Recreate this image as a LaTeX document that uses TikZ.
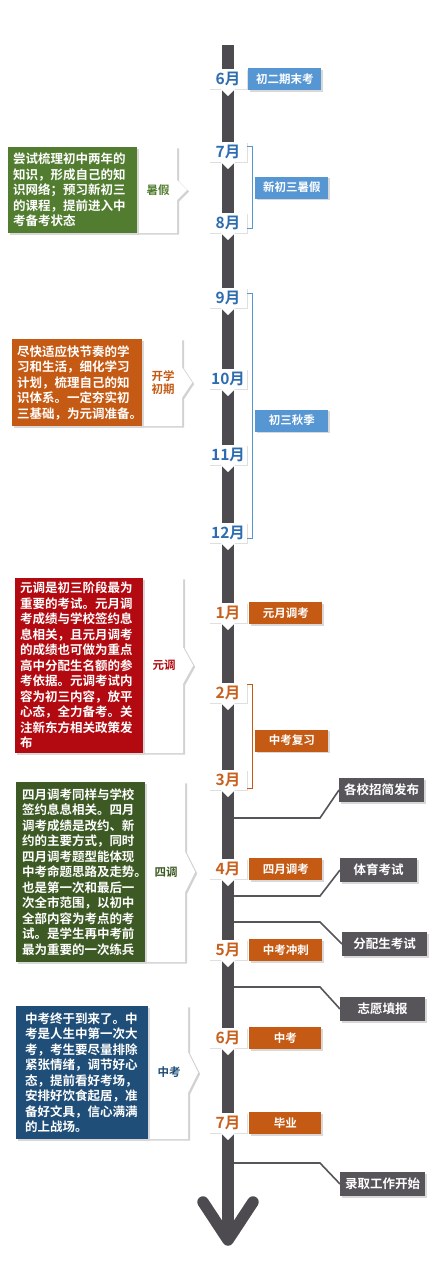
\documentclass[tikz,border=0pt]{standalone}
\usepackage{fontspec}
\setmainfont{Noto Sans CJK SC}[BoldFont=* Bold]
\usepackage{xcolor}
\usetikzlibrary{positioning, calc, shadows, backgrounds}
\definecolor{barGray}{HTML}{4E4B50}
\definecolor{boxGray}{HTML}{57545A}
\definecolor{monBlue}{HTML}{2D6DAF}
\definecolor{evBlue}{HTML}{5596D3}
\definecolor{monOrange}{HTML}{C8601E}
\definecolor{evOrange}{HTML}{C55A14}
\definecolor{leafGreen}{HTML}{527C2F}
\definecolor{darkGreen}{HTML}{3D5A25}
\definecolor{examRed}{HTML}{B20A10}
\definecolor{deepBlue}{HTML}{1F4E79}
\tikzstyle{Bar} = [draw=barGray, line width=11.5pt]
\tikzstyle{Month} = [fill=white, minimum width=38pt, minimum height=20pt, inner sep=0pt,
	font=\fontsize{15.5}{15.5}\selectfont\bfseries,
	drop shadow={opacity=0.25, shadow xshift=1pt, shadow yshift=-1pt}]
\tikzstyle{Event} = [text=white, minimum width=73pt, minimum height=22pt, inner sep=0pt,
	font=\fontsize{11.5}{12}\selectfont\bfseries,
	drop shadow={opacity=0.3, shadow xshift=1.5pt, shadow yshift=-1.5pt}]
\tikzstyle{Milestone} = [Event, fill=boxGray, minimum width=85pt, minimum height=24pt,
	font=\fontsize{12.5}{13}\selectfont\bfseries]
\tikzstyle{Note} = [text=white, align=left, inner xsep=5pt, inner ysep=0pt,
	font=\fontsize{12.5}{15.5}\selectfont\bfseries,
	drop shadow={opacity=0.3, shadow xshift=1.5pt, shadow yshift=-1.5pt}]
\tikzstyle{Tab} = [fill=white, drop shadow={opacity=0.35, shadow xshift=2pt, shadow yshift=-1.5pt}]
\tikzstyle{Tag} = [align=center, inner sep=0pt, font=\fontsize{11.5}{13}\selectfont\bfseries]
\tikzstyle{Brace} = [line width=1.3pt]
\tikzstyle{Link} = [draw=boxGray, line width=1.6pt]

\begin{document}
\begin{tikzpicture}[x=1pt, y=-1pt]
	\begin{scope}[on background layer]
		\fill[white] (0,0) rectangle (445,1280);
	\end{scope}
	\useasboundingbox (0,0) rectangle (445,1280);
	
	% time line
	\coordinate (top) at (228,45);
	\coordinate (tip) at (228,1240);
	\draw[Bar] (top) -- (tip);
	\draw[Bar, line cap=round, line join=round] (203,1202) -- (tip) -- (253,1202);
	
	% milestones on the right
	\node[Milestone, anchor=west] (g1) at (339,790) {各校招简发布};
	\node[Milestone, anchor=west, minimum width=77pt] (g2) at (340,870) {体育考试};
	\node[Milestone, anchor=west] (g3) at (342,944) {分配生考试};
	\node[Milestone, anchor=west] (g4) at (340,1009) {志愿填报};
	\node[Milestone, anchor=west] (g5) at (340,1184) {录取工作开始};
	\foreach \g/\y in {g1/818, g2/896, g3/922, g4/987, g5/1163} {
		\coordinate (p\g) at (234,\y);
		\draw[Link] (p\g) -- ++(86,0) -- (\g.west);
	}
	
	% months
	\foreach \n/\t/\y/\c in {jun1/6月/79/monBlue, jul1/7月/152/monBlue, aug/8月/223/monBlue,
		sep/9月/298/monBlue, oct/10月/379/monBlue, nov/11月/455/monBlue, dec/12月/533/monBlue,
		jan/1月/613/monOrange, feb/2月/693/monOrange, mar/3月/780/monOrange,
		apr/4月/869/monOrange, may/5月/950/monOrange, jun2/6月/1038/monOrange, jul2/7月/1123/monOrange} {
		\node[Month, text=\c] (\n) at (228,\y) {\t};
		\fill[white] ([xshift=-7pt]\n.south) -- ([yshift=-7pt]\n.south) -- ([xshift=7pt]\n.south) -- cycle;
	}
	
	% events
	\node[Event, fill=evBlue, right=1pt of jun1] (e1) {初二期末考};
	\draw[Brace, evBlue] ([yshift=-5pt]jul1.north east) -- ++(5,0) |- ([yshift=5pt]aug.south east);
	\node[Event, fill=evBlue, anchor=west] (e2) at ($(jul1.east)!0.5!(aug.east)+(8,0)$) {新初三暑假};
	\draw[Brace, evBlue] ([yshift=-6pt]sep.north east) -- ++(5,0) |- ([yshift=5pt]dec.south east);
	\node[Event, fill=evBlue, anchor=west] (e3) at ($(sep.east)!0.5!(dec.east)+(8,5)$) {初三秋季};
	\node[Event, fill=evOrange, right=2pt of jan] (e4) {元月调考};
	\draw[Brace, evOrange] ([yshift=-2pt]feb.north east) -- ++(5,0) |- ([yshift=2pt]mar.south east);
	\node[Event, fill=evOrange, anchor=west] (e5) at ($(feb.east)!0.5!(mar.east)+(8,4)$) {中考复习};
	\node[Event, fill=evOrange, right=2pt of apr] (e6) {四月调考};
	\node[Event, fill=evOrange, right=2pt of may] (e7) {中考冲刺};
	\node[Event, fill=evOrange, right=2pt of jun2, minimum width=72pt] (e8) {中考};
	\node[Event, fill=evOrange, right=2pt of jul2, minimum width=72pt] (e9) {毕业};
	
	% notes on the left
	\node[Note, fill=leafGreen, text width=119pt, minimum height=86pt] (gr) at (72.5,190)
		{尝试梳理初中两年的\\知识，形成自己的知\\识网络；预习新初三\\的课程，提前进入中\\考备考状态};
	\node[Note, fill=evOrange, text width=120pt, minimum height=87pt] (or) at (77,382.5)
		{尽快适应快节奏的学\\习和生活，细化学习\\计划，梳理自己的知\\识体系。一定夯实初\\三基础，为元调准备。};
	\node[Note, fill=examRed, text width=118pt, minimum height=175pt] (rd) at (79,665.5)
		{元调是初三阶段最为\\重要的考试。元月调\\考成绩与学校签约息\\息相关，且元月调考\\的成绩也可做为重点\\高中分配生名额的参\\考依据。元调考试内\\容为初三内容，放平\\心态，全力备考。关\\注新东方相关政策发\\布};
	\node[Note, fill=darkGreen, text width=117pt, inner xsep=6pt, minimum height=180pt] (dg) at (80.5,872)
		{四月调考同样与学校\\签约息息相关。四月\\调考成绩是改约、新\\约的主要方式，同时\\四月调考题型能体现\\中考命题思路及走势。\\也是第一次和最后一\\次全市范围，以初中\\全部内容为考点的考\\试。是学生再中考前\\最为重要的一次练兵};
	\node[Note, fill=deepBlue, text width=114pt, inner xsep=9pt, minimum height=133pt] (nv) at (82,1072.5)
		{中考终于到来了。中\\考是人生中第一次大\\考，考生要尽量排除\\紧张情绪，调节好心\\态，提前看好考场，\\安排好饮食起居，准\\备好文具，信心满满\\的上战场。};
	\begin{scope}[on background layer]
		\foreach \n/\h in {gr/10, or/15, rd/18, dg/20, nv/20}
			\fill[Tab] (\n.north east) -- ++(40,0) -- ($(\n.east)+(40,-\h)$) -- ($(\n.east)+(50,0)$)
				-- ($(\n.east)+(40,\h)$) -- ($(\n.south east)+(40,0)$) -- (\n.south east) -- cycle;
	\end{scope}
	\foreach \n/\t/\c in {gr/暑假/leafGreen, or/开学\\初期/evOrange, rd/元调/examRed, dg/四调/darkGreen, nv/中考/deepBlue}
		\node[Tag, text=\c] (t\n) at ($(\n.east)+(21,0)$) {\t};
\end{tikzpicture}
\end{document}
